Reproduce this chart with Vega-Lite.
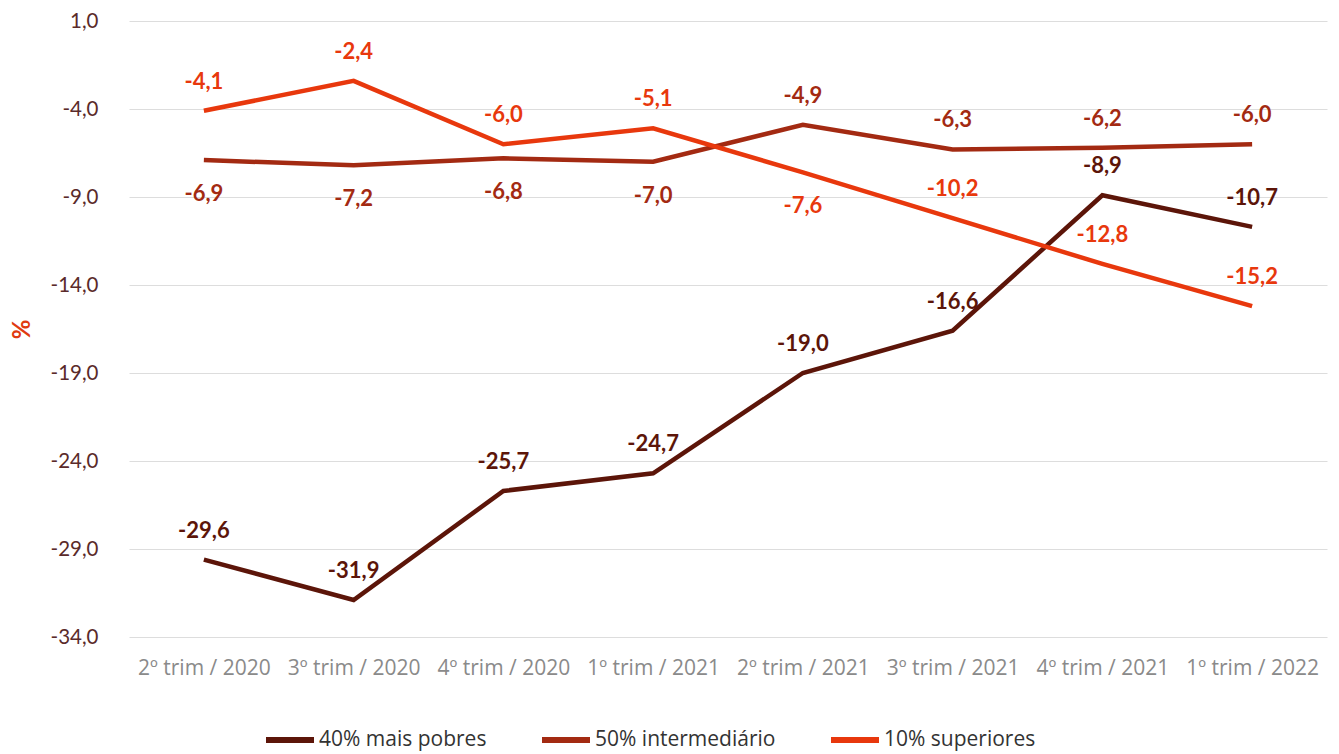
{
  "$schema": "https://vega.github.io/schema/vega-lite/v6.json",
  "width": 1198,
  "height": 616,
  "autosize": {"type": "none"},
  "padding": {"left": 129, "top": 21, "right": 12, "bottom": 117},
  "background": "white",
  "config": {
    "view": {"stroke": null},
    "locale": {"number": {"decimal": ",", "thousands": ".", "grouping": [3], "currency": ["", ""], "minus": "-"}},
    "font": "Lato"
  },
  "data": {
    "values": [
      {"serie": "40% mais pobres", "periodo": "2º trim / 2020", "valor": -29.6},
      {"serie": "40% mais pobres", "periodo": "3º trim / 2020", "valor": -31.9},
      {"serie": "40% mais pobres", "periodo": "4º trim / 2020", "valor": -25.7},
      {"serie": "40% mais pobres", "periodo": "1º trim / 2021", "valor": -24.7},
      {"serie": "40% mais pobres", "periodo": "2º trim / 2021", "valor": -19.0},
      {"serie": "40% mais pobres", "periodo": "3º trim / 2021", "valor": -16.6},
      {"serie": "40% mais pobres", "periodo": "4º trim / 2021", "valor": -8.9},
      {"serie": "40% mais pobres", "periodo": "1º trim / 2022", "valor": -10.7},
      {"serie": "50% intermediário", "periodo": "2º trim / 2020", "valor": -6.9},
      {"serie": "50% intermediário", "periodo": "3º trim / 2020", "valor": -7.2},
      {"serie": "50% intermediário", "periodo": "4º trim / 2020", "valor": -6.8},
      {"serie": "50% intermediário", "periodo": "1º trim / 2021", "valor": -7.0},
      {"serie": "50% intermediário", "periodo": "2º trim / 2021", "valor": -4.9},
      {"serie": "50% intermediário", "periodo": "3º trim / 2021", "valor": -6.3},
      {"serie": "50% intermediário", "periodo": "4º trim / 2021", "valor": -6.2},
      {"serie": "50% intermediário", "periodo": "1º trim / 2022", "valor": -6.0},
      {"serie": "10% superiores", "periodo": "2º trim / 2020", "valor": -4.1},
      {"serie": "10% superiores", "periodo": "3º trim / 2020", "valor": -2.4},
      {"serie": "10% superiores", "periodo": "4º trim / 2020", "valor": -6.0},
      {"serie": "10% superiores", "periodo": "1º trim / 2021", "valor": -5.1},
      {"serie": "10% superiores", "periodo": "2º trim / 2021", "valor": -7.6},
      {"serie": "10% superiores", "periodo": "3º trim / 2021", "valor": -10.2},
      {"serie": "10% superiores", "periodo": "4º trim / 2021", "valor": -12.8},
      {"serie": "10% superiores", "periodo": "1º trim / 2022", "valor": -15.2}
    ]
  },
  "encoding": {
    "x": {
      "field": "periodo", "type": "nominal", "sort": null,
      "scale": {"paddingInner": 0, "paddingOuter": 0.5},
      "axis": {
        "title": null, "labelAngle": 0, "ticks": false, "domain": false,
        "labelColor": "#8a8a8a", "labelFontSize": 21, "labelPadding": 20,
        "labelFont": "Open Sans", "grid": false, "labelLimit": 200
      }
    },
    "y": {
      "field": "valor", "type": "quantitative",
      "scale": {"domain": [-34, 1], "nice": false, "zero": false},
      "axis": {
        "title": "%", "titleColor": "#e03a10", "titleFontSize": 24, "titleFont": "Lato",
        "titleFontWeight": "bold", "titleX": -95, "titleY": 308,
        "values": [1, -4, -9, -14, -19, -24, -29, -34],
        "format": ".1f", "labelColor": "#5a2a2a", "labelFontSize": 20.5,
        "labelPadding": 31, "ticks": false, "domain": false,
        "gridColor": "#dddddd", "gridWidth": 1
      }
    },
    "color": {
      "field": "serie", "type": "nominal",
      "sort": ["40% mais pobres", "50% intermediário", "10% superiores"],
      "scale": {
        "domain": ["40% mais pobres", "50% intermediário", "10% superiores"],
        "range": ["#5c1509", "#a32a12", "#e8380d"]
      },
      "legend": {
        "title": null, "orient": "none", "direction": "horizontal",
        "legendX": 134, "legendY": 692,
        "symbolType": "stroke", "symbolSize": 2304, "symbolStrokeWidth": 6,
        "labelFontSize": 21, "labelColor": "#333333", "labelFont": "Open Sans",
        "columnPadding": 43, "labelOffset": 2, "labelLimit": 300
      }
    }
  },
  "layer": [
    {
      "mark": {"type": "line", "strokeWidth": 4.5}
    },
    {
      "transform": [{"filter": "datum.serie === '40% mais pobres' || (datum.serie === '50% intermediário' && indexof(['2º trim / 2021','3º trim / 2021','4º trim / 2021','1º trim / 2022'], datum.periodo) >= 0) || (datum.serie === '10% superiores' && datum.periodo !== '2º trim / 2021')"}],
      "mark": {"type": "text", "dy": -29, "fontSize": 22, "fontWeight": "bold", "font": "Lato"},
      "encoding": {
        "text": {"field": "valor", "type": "quantitative", "format": ".1f"},
        "color": {"field": "serie", "type": "nominal", "scale": {"domain": ["40% mais pobres", "50% intermediário", "10% superiores"], "range": ["#5c1509", "#a32a12", "#e8380d"]}, "legend": null}
      }
    },
    {
      "transform": [{"filter": "(datum.serie === '50% intermediário' && indexof(['2º trim / 2020','3º trim / 2020','4º trim / 2020','1º trim / 2021'], datum.periodo) >= 0) || (datum.serie === '10% superiores' && datum.periodo === '2º trim / 2021')"}],
      "mark": {"type": "text", "dy": 34, "fontSize": 22, "fontWeight": "bold", "font": "Lato"},
      "encoding": {
        "text": {"field": "valor", "type": "quantitative", "format": ".1f"},
        "color": {"field": "serie", "type": "nominal", "scale": {"domain": ["40% mais pobres", "50% intermediário", "10% superiores"], "range": ["#5c1509", "#a32a12", "#e8380d"]}, "legend": null}
      }
    }
  ]
}
